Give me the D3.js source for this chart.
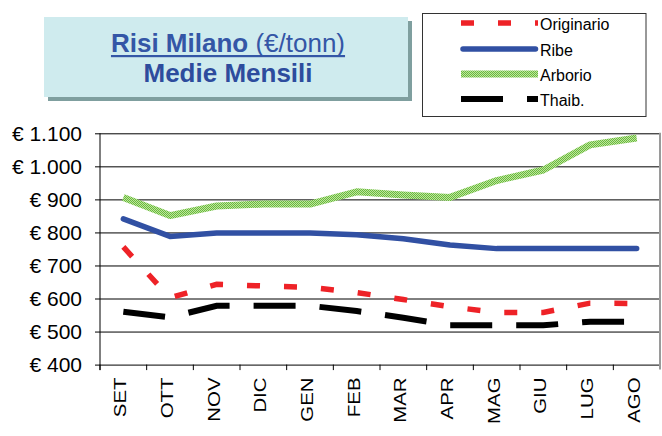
<!DOCTYPE html>
<html><head><meta charset="utf-8">
<script src="https://cdn.jsdelivr.net/npm/d3@7"></script>
<style>
html,body{margin:0;padding:0;background:#fff;}
svg{display:block;font-family:"Liberation Sans",Arial,sans-serif;}
</style></head>
<body>
<svg id="c" width="662" height="436"></svg>
<script>
const months = ["SET","OTT","NOV","DIC","GEN","FEB","MAR","APR","MAG","GIU","LUG","AGO"];
const originario = [756,602,643,638,634,618,597,575,558,558,586,585];
const ribe = [841,788,798,798,798,793,781,762,751,751,751,751];
const arborio = [906,851,880,886,886,923,913,906,957,989,1065,1086];
const thaib = [560,543,578,578,578,562,542,519,519,519,530,530];
const yTicks = [400,500,600,700,800,900,1000,1100];
const yLabels = ["€ 400","€ 500","€ 600","€ 700","€ 800","€ 900","€ 1.000","€ 1.100"];
const seriesNames = ["Originario","Ribe","Arborio","Thaib."];

const svg = d3.select("#c");
const defs = svg.append("defs");
const pat = defs.append("pattern").attr("id","arb").attr("patternUnits","userSpaceOnUse")
  .attr("width",2).attr("height",2);
pat.append("rect").attr("width",2).attr("height",2).attr("fill","#bfe49d");
pat.append("rect").attr("x",0).attr("y",0).attr("width",1).attr("height",1).attr("fill","#68bb3e");
pat.append("rect").attr("x",1).attr("y",1).attr("width",1).attr("height",1).attr("fill","#68bb3e");

const L = 100, R = 660, T = 133.3, B = 364.6;
const x = d3.scaleBand().domain(months).range([L,R]).padding(0);
const y = d3.scaleLinear().domain([400,1100]).range([B,T]);
const cx = d => x(d) + x.bandwidth()/2;

// Y axis with gridlines
const yAxis = d3.axisLeft(y).tickValues(yTicks)
  .tickFormat((d,i)=>yLabels[i]).tickSizeInner(-(R-L)).tickSizeOuter(0).tickPadding(18);
const gy = svg.append("g").attr("transform",`translate(${L},0)`).call(yAxis);
gy.select(".domain").remove();
gy.selectAll(".tick line").attr("x1",-5).attr("stroke","#000").attr("stroke-width",1);
gy.selectAll(".tick text").attr("font-size",21).attr("fill","#000")
  .attr("font-family","Liberation Sans, Arial, sans-serif");

// axis line
svg.append("line").attr("x1",L).attr("x2",L).attr("y1",T).attr("y2",B+5.5).attr("stroke","#000");
// right border
svg.append("line").attr("x1",R).attr("x2",R).attr("y1",T-0.5).attr("y2",B+5).attr("stroke","#9a9a9a").attr("stroke-width",2);

// X ticks at boundaries
const bounds = months.map(m=>x(m)).concat([R]);
svg.append("g").selectAll("line").data(bounds.slice(0,12)).join("line")
  .attr("x1",d=>d).attr("x2",d=>d).attr("y1",B).attr("y2",B+5.5).attr("stroke","#000");

// X labels
svg.append("g").selectAll("text").data(months).join("text")
  .attr("transform",d=>`translate(${cx(d)+3},377.5) rotate(-90) scale(1.2,1)`)
  .attr("text-anchor","end").attr("font-size",17).attr("fill","#000").text(d=>d);

// Lines
const line = d3.line().x((d,i)=>cx(months[i])).y(d=>y(d));
svg.append("path").datum(arborio).attr("d",line).attr("fill","none")
  .attr("stroke","url(#arb)").attr("stroke-width",7).attr("stroke-linejoin","round");
svg.append("path").datum(ribe).attr("d",line).attr("fill","none")
  .attr("stroke","#3150a3").attr("stroke-width",5.5).attr("stroke-linejoin","round").attr("stroke-linecap","round");
svg.append("path").datum(originario).attr("d",line).attr("fill","none")
  .attr("stroke","#ee2227").attr("stroke-width",5.5).attr("stroke-dasharray","13,24");
svg.append("path").datum(thaib).attr("d",line).attr("fill","none")
  .attr("stroke","#000").attr("stroke-width",6).attr("stroke-dasharray","42,24");

// Title box
svg.append("rect").attr("x",48).attr("y",21).attr("width",364).attr("height",80).attr("fill","#7f9f9f");
svg.append("rect").attr("x",44).attr("y",17).attr("width",364).attr("height",80).attr("fill","#cfebee");
const t1 = svg.append("text").attr("x",228).attr("y",51.5).attr("text-anchor","middle")
  .attr("font-size",26).attr("fill","#3456a6");
t1.append("tspan").attr("font-weight","bold").text("Risi Milano");
t1.append("tspan").text(" (€/tonn)");
const bb = t1.node().getBBox();
svg.append("rect").attr("x",bb.x).attr("y",55).attr("width",bb.width).attr("height",2.2).attr("fill","#3456a6");
svg.append("text").attr("x",228).attr("y",81.5).attr("text-anchor","middle")
  .attr("font-size",26).attr("font-weight","bold").attr("fill","#2d4c9d").text("Medie Mensili");

// Legend
svg.append("rect").attr("x",422.5).attr("y",13.5).attr("width",223.5).attr("height",103)
  .attr("fill","#fff").attr("stroke","#333").attr("stroke-width",1);
const ly = [23,49,74,99];
const lg = svg.append("g");
const styles = [
  {stroke:"#ee2227", w:5.5, dash:"13,24", cap:"butt"},
  {stroke:"#3150a3", w:5.5, dash:null, cap:"round"},
  {stroke:"url(#arb)", w:7, dash:null, cap:"butt"},
  {stroke:"#000", w:6, dash:"42,24", cap:"butt"}
];
seriesNames.forEach((n,i)=>{
  const s = styles[i];
  const l = lg.append("line").attr("x1", s.cap==="round"?463:461).attr("x2", s.cap==="round"?535.5:538)
    .attr("y1",ly[i]).attr("y2",ly[i]).attr("stroke",s.stroke).attr("stroke-width",s.w).attr("stroke-linecap",s.cap);
  if (s.dash) l.attr("stroke-dasharray",s.dash);
  lg.append("text").attr("x",540).attr("y",ly[i]+6.5).attr("font-size",16).attr("fill","#000").text(n);
});
</script>
</body></html>
